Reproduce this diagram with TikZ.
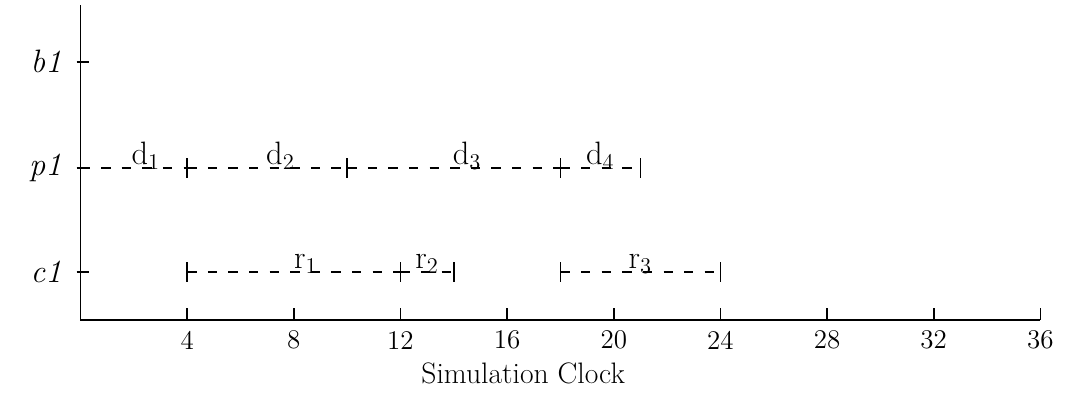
\documentclass[tikz,border=0pt]{standalone}
\tikzset{span/.style={dash pattern=on 5pt off 6pt, line width=0.8pt},
  bar/.style={line width=0.9pt}}
\begin{document}
\begin{tikzpicture}[x=0.5cm,y=1cm,font=\Large]
\useasboundingbox (-3.02,-1.39) rectangle (37.15,6.0);
\draw[line width=1pt] (0,5.9) -- (0,0) -- (36,0);
\foreach \x in {4,8,...,36} { \draw[bar] (\x,0) -- (\x,0.22); \node (t\x) at (\x,-0.38) {\x}; }
\node[font=\fontsize{15.8}{19}\selectfont] (clock) at (16.6,-1.0) {Simulation Clock};
\foreach \r/\y in {b1/4.84,p1/2.85,c1/0.9} { \draw[bar] (-0.15,\y) -- (0.3,\y); \node[anchor=east,inner sep=0pt,font=\LARGE] (\r) at (-0.7,\y) {\textit{\r}}; }
\foreach \a/\b/\n/\p in {0/4/1/2.45,4/10/2/7.5,10/18/3/14.5,18/21/4/19.5} {
  \draw[span] (\a,2.85) -- (\b,2.85);
  \node[anchor=base,inner sep=0pt,font=\LARGE] (d\n) at (\p,2.91) {$\mathrm{d}_{\n}$};
}
\foreach \x in {4,10,18,21} \draw[bar] (\x,2.67) -- (\x,3.03);
\foreach \a/\b/\n/\p in {4/12/1/8.45,12/14/2/13,18/24/3/21} {
  \draw[span] (\a,0.9) -- (\b,0.9);
  \node[anchor=base,inner sep=0pt,font=\LARGE] (r\n) at (\p,0.96) {$\mathrm{r}_{\n}$};
}
\foreach \x in {4,12,14,18,24} \draw[bar] (\x,0.72) -- (\x,1.08);
\end{tikzpicture}
\end{document}
